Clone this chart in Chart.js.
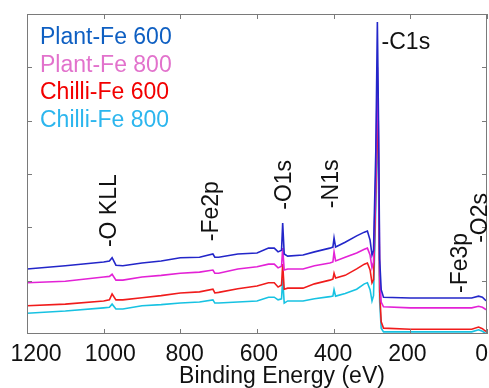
<!DOCTYPE html>
<html>
<head>
<meta charset="utf-8">
<script src="https://cdn.jsdelivr.net/npm/chart.js@4.4.1/dist/chart.umd.min.js"></script>
<style>
  html, body { margin: 0; padding: 0; background: #fff; }
  #wrap { width: 489px; height: 388px; }
</style>
</head>
<body>
<div id="wrap"><canvas id="xpsChart"></canvas></div>
<script>
// binding energies (eV), shared by all four spectra
const energies = [1200, 1100, 1000, 985, 978, 968, 950, 900, 850, 800, 750, 715, 710, 700, 650, 600, 570, 555, 545, 536, 533, 529, 520, 480, 450, 410, 402, 399, 395, 370, 340, 320, 312, 305, 300, 296, 290, 286, 283, 280, 276, 270, 200, 100, 40, 22, 12, 5, 0];

const plantFe600 = [1.22, 1.28, 1.35, 1.37, 1.43, 1.29, 1.28, 1.33, 1.37, 1.43, 1.44, 1.50, 1.44, 1.44, 1.50, 1.52, 1.61, 1.61, 1.54, 1.57, 2.08, 1.50, 1.46, 1.48, 1.54, 1.61, 1.63, 1.80, 1.63, 1.72, 1.84, 1.91, 1.93, 1.76, 1.48, 1.57, 3.45, 5.85, 4.00, 1.40, 0.83, 0.69, 0.675, 0.675, 0.675, 0.71, 0.69, 0.64, 0.62];
const plantFe800 = [0.96, 0.99, 1.07, 1.08, 1.12, 1.01, 1.01, 1.07, 1.10, 1.14, 1.16, 1.20, 1.14, 1.14, 1.22, 1.26, 1.31, 1.31, 1.24, 1.27, 1.61, 1.20, 1.22, 1.22, 1.28, 1.33, 1.35, 1.54, 1.37, 1.44, 1.52, 1.59, 1.61, 1.48, 1.24, 1.35, 3.00, 5.00, 3.70, 1.10, 0.60, 0.51, 0.49, 0.49, 0.49, 0.52, 0.50, 0.47, 0.45];
const chilliFe600 = [0.53, 0.56, 0.62, 0.64, 0.75, 0.64, 0.64, 0.68, 0.72, 0.77, 0.79, 0.84, 0.77, 0.78, 0.85, 0.90, 0.96, 0.96, 0.88, 0.92, 1.31, 0.84, 0.86, 0.86, 0.94, 1.01, 1.03, 1.14, 1.05, 1.10, 1.22, 1.31, 1.33, 1.20, 0.96, 1.02, 2.70, 4.40, 3.20, 0.80, 0.23, 0.11, 0.09, 0.09, 0.09, 0.13, 0.10, 0.06, 0.04];
const chilliFe800 = [0.39, 0.43, 0.49, 0.50, 0.56, 0.47, 0.47, 0.53, 0.55, 0.58, 0.60, 0.64, 0.58, 0.58, 0.60, 0.62, 0.69, 0.69, 0.64, 0.66, 1.03, 0.58, 0.62, 0.62, 0.66, 0.70, 0.71, 0.83, 0.71, 0.76, 0.84, 0.94, 0.96, 0.83, 0.62, 0.72, 2.40, 4.00, 2.90, 0.60, 0.11, 0.04, 0.04, 0.04, 0.04, 0.08, 0.05, 0.02, 0.00];

const seriesNames = ['Plant-Fe 600', 'Plant-Fe 800', 'Chilli-Fe 600', 'Chilli-Fe 800'];
const seriesValues = [plantFe600, plantFe800, chilliFe600, chilliFe800];
const lineColors = ['#2326c9', '#e322d6', '#f01c1c', '#17c2e2'];
const legendColors = ['#0e5fc2', '#e272cc', '#f20000', '#2cb6ee'];

const xTicks = [1200, 1000, 800, 600, 400, 200, 0];

// peak labels: text, energy, where the text starts (y value), rotated or not
const peakLabels = [
  { text: '-O KLL', e: 984, y: 1.63, rot: true },
  { text: '-Fe2p', e: 718, y: 1.74, rot: true },
  { text: '-O1s', e: 527, y: 2.33, rot: true },
  { text: '-N1s', e: 404, y: 2.36, rot: true },
  { text: '-Fe3p', e: 69, y: 0.77, rot: true },
  { text: '-O2s', e: 17, y: 1.71, rot: true },
  { text: '-C1s', e: 275, y: 5.46, rot: false }
];

const FONT = '"Liberation Sans", Arial, sans-serif';

const xpsDecor = {
  id: 'xpsDecor',
  afterDraw(chart) {
    const ctx = chart.ctx;
    const area = chart.chartArea;
    const xs = chart.scales.x;
    const ys = chart.scales.y;
    ctx.save();

    // frame
    ctx.strokeStyle = '#7a7a7a';
    ctx.lineWidth = 1;
    ctx.strokeRect(area.left + 0.5, area.top + 0.5, area.right - area.left - 1, area.bottom - area.top - 1);

    // inward tick marks
    ctx.beginPath();
    xTicks.forEach(v => {
      const px = Math.round(xs.getPixelForValue(v)) + 0.5;
      ctx.moveTo(px, area.bottom);
      ctx.lineTo(px, area.bottom - 5);
      ctx.moveTo(px, area.top);
      ctx.lineTo(px, area.top + 5);
    });
    [1, 2, 3, 4, 5].forEach(v => {
      const py = Math.round(ys.getPixelForValue(v)) + 0.5;
      ctx.moveTo(area.left, py);
      ctx.lineTo(area.left + 5, py);
      ctx.moveTo(area.right, py);
      ctx.lineTo(area.right - 5, py);
    });
    ctx.stroke();

    ctx.font = '23px ' + FONT;

    // x tick labels (the original sets them a little narrower than the ticks)
    ctx.fillStyle = '#111';
    ctx.textAlign = 'center';
    ctx.textBaseline = 'alphabetic';
    xTicks.forEach(v => {
      const px = xs.getPixelForValue(v);
      const lx = area.left + 9 + (px - area.left) * 0.969;
      ctx.fillText(String(v), lx, area.bottom + 27);
    });

    // axis title
    ctx.fillText('Binding Energy (eV)', 282, area.bottom + 49);

    // peak labels
    ctx.textAlign = 'left';
    ctx.textBaseline = 'middle';
    peakLabels.forEach(p => {
      const px = xs.getPixelForValue(p.e);
      const py = ys.getPixelForValue(p.y);
      if (p.rot) {
        ctx.save();
        ctx.translate(px, py);
        ctx.rotate(-Math.PI / 2);
        ctx.fillText(p.text, 0, 0);
        ctx.restore();
      } else {
        ctx.fillText(p.text, px, py);
      }
    });

    // legend, coloured text only
    ctx.textBaseline = 'alphabetic';
    chart.data.datasets.forEach((ds, i) => {
      ctx.fillStyle = legendColors[i];
      ctx.fillText(ds.label, area.left + 13, area.top + 30 + i * 27.6);
    });

    ctx.restore();
  }
};

const datasets = seriesNames.map((name, i) => ({
  label: name,
  data: energies.map((e, j) => ({ x: e, y: seriesValues[i][j] })),
  borderColor: lineColors[i],
  borderWidth: 1.6,
  pointRadius: 0,
  tension: 0,
  fill: false,
  order: i
}));

const ctx = document.getElementById('xpsChart').getContext('2d');
new Chart(ctx, {
  type: 'line',
  data: { datasets: datasets },
  options: {
    responsive: true,
    maintainAspectRatio: false,
    animation: false,
    layout: { padding: { left: 27, top: 14, right: 2, bottom: 0 } },
    plugins: {
      legend: { display: false },
      tooltip: { enabled: false }
    },
    scales: {
      x: {
        type: 'linear',
        reverse: true,
        min: 0,
        max: 1200,
        grid: { display: false, drawTicks: false },
        border: { display: false },
        ticks: { display: false, stepSize: 200 },
        afterFit(scale) {
          scale.height = 54;
          scale.paddingLeft = 0;
          scale.paddingRight = 0;
        }
      },
      y: {
        display: false,
        min: 0,
        max: 6
      }
    }
  },
  plugins: [xpsDecor]
});
</script>
</body>
</html>
